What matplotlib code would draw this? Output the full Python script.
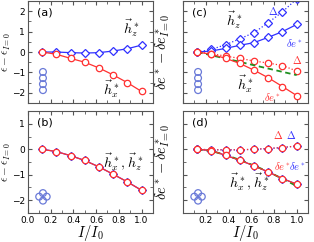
import numpy as np
import matplotlib
matplotlib.use('Agg')
import matplotlib.pyplot as plt
from matplotlib.ticker import MultipleLocator, NullFormatter

plt.rcParams['mathtext.fontset'] = 'cm'
plt.rcParams['font.family'] = 'DejaVu Sans'

# data
x = [0.125, 0.25, 0.375, 0.5, 0.625, 0.75, 0.875, 1.0]

a_hz = [0, 0, -0.03, -0.05, -0.03, 0.05, 0.16, 0.34]
a_hx = [0, -0.11, -0.31, -0.50, -0.78, -1.12, -1.50, -1.93]

b_hz = [0, -0.09, -0.25, -0.44, -0.69, -0.98, -1.28, -1.61]
b_hx = [0, -0.09, -0.25, -0.44, -0.69, -0.98, -1.28, -1.61]

c_hz_de = [0, 0.05, 0.18, 0.33, 0.46, 0.72, 1.00, 1.35]
c_hz_delta = [0, 0.13, 0.36, 0.65, 0.95, 1.44, 1.97, 2.6]
c_hx_de = [0, -0.11, -0.31, -0.56, -0.89, -1.26, -1.69, -2.13]
c_hx_delta = [0, -0.08, -0.20, -0.31, -0.44, -0.54, -0.66, -0.93]
c_fit = [0, -0.16, -0.32, -0.48, -0.65, -0.81, -0.97, -1.13]

d_delta = [0, -0.02, -0.02, -0.02, 0, 0.03, 0.07, 0.13]
d_de = [0, -0.05, -0.24, -0.43, -0.65, -0.89, -1.15, -1.37]
d_fit = [0, -0.07, -0.22, -0.42, -0.64, -0.88, -1.16, -1.44]

red = '#ff3030'
blue = '#3030ff'
green = '#1f8f1f'
icon = '#6a7ad8'

fig = plt.figure(figsize=(3.14, 2.42), dpi=100)
axa = fig.add_axes([0.089, 0.574, 0.398, 0.422])
axb = fig.add_axes([0.089, 0.120, 0.398, 0.421])
axc = fig.add_axes([0.583, 0.574, 0.398, 0.422])
axd = fig.add_axes([0.583, 0.120, 0.398, 0.421])

diam = dict(marker='D', ms=4.2, mfc='white', mec=blue, mew=0.9, color=blue, lw=0.9)
circ = dict(marker='o', ms=4.6, mfc='white', mec=red, mew=0.9, color=red, lw=0.9)

# (a)
axa.plot(x, a_hz, **diam)
axa.plot(x, a_hx, **circ)
axa.set_ylim(-2.5, 2.5)

# (b)
axb.plot(x, b_hz, **diam)
axb.plot(x, b_hx, **circ)
axb.set_ylim(-2.5, 1.5)

# (c)
axc.plot(x, c_hz_delta, ls=':', **diam)
axc.plot(x, c_hz_de, **diam)
axc.plot(x, c_hx_delta, ls=':', **circ)
axc.plot(x, c_fit, '--', color=green, lw=1.3, dashes=(3, 2))
axc.plot(x, c_hx_de, **circ)
axc.set_ylim(-2.5, 2.5)

# (d)
axd.plot(x, d_delta, ls=':', **diam)
axd.plot(x, d_de, **diam)
axd.plot(x, d_delta, ls=':', **circ)
axd.plot(x, d_fit, '--', color=green, lw=1.3, dashes=(3, 2))
axd.plot(x, d_de, **circ)
axd.set_ylim(-2.5, 1.5)

for ax in (axa, axb, axc, axd):
    ax.set_xlim(0, 1.1)
    ax.xaxis.set_major_locator(MultipleLocator(0.2))
    ax.xaxis.set_minor_locator(MultipleLocator(0.1))
    ax.yaxis.set_major_locator(MultipleLocator(1))
    ax.yaxis.set_minor_locator(MultipleLocator(0.5))
    ax.tick_params(which='both', direction='in', top=True, right=True,
                   labelsize=6.5, pad=2, color='#555555')
    ax.tick_params(which='major', length=3)
    ax.tick_params(which='minor', length=2.5)
    for s in ax.spines.values():
        s.set_color('#555555')
        s.set_linewidth(0.8)

for ax in (axa, axc):
    ax.xaxis.set_major_formatter(NullFormatter())
for ax in (axc, axd):
    ax.yaxis.set_major_formatter(NullFormatter())

axd.set_xticks([0.2, 0.4, 0.6, 0.8, 1.0])
axd.set_xticklabels(['0.2', '0.4', '0.6', '0.8', '1.0'])
axb.set_xticks([0.0, 0.2, 0.4, 0.6, 0.8, 1.0])
axb.set_xticklabels(['0.0', '0.2', '0.4', '0.6', '0.8', '1.0'])

for ax in (axb, axd):
    ax.set_xlabel(r'$I/I_0$', fontsize=10.5, labelpad=-1)

for ax in (axa, axb):
    ax.set_ylabel(r'$\bar{\epsilon}-\bar{\epsilon}_{I=0}$', fontsize=8)
    ax.yaxis.set_label_coords(-0.12, 0.5)
for ax in (axc, axd):
    ax.set_ylabel(r'$\delta e^*-\delta e^*_{I=0}$', fontsize=10.5)
    ax.yaxis.set_label_coords(-0.09, 0.5)

for ax, lab in zip((axa, axb, axc, axd), ['(a)', '(b)', '(c)', '(d)']):
    ax.text(0.07, 0.86, lab, transform=ax.transAxes, fontsize=8)

# molecule icons
for ax in (axa, axc):
    ax.scatter([0.12] * 4, [0.305, 0.245, 0.186, 0.127], s=24, facecolor='none',
               edgecolor=icon, lw=0.9, transform=ax.transAxes, clip_on=False)
for ax in (axb, axd):
    ax.scatter([0.12, 0.09, 0.15, 0.12], [0.195, 0.160, 0.160, 0.121], s=24,
               facecolor='none', edgecolor=icon, lw=0.9, transform=ax.transAxes)

# labels inside panels
axa.text(0.76, 0.68, r'$\vec{h}_z^*$', transform=axa.transAxes, fontsize=10)
axa.text(0.6, 0.08, r'$\vec{h}_x^*$', transform=axa.transAxes, fontsize=10)
axb.text(0.6, 0.45, r'$\vec{h}_x^*,\vec{h}_z^*$', transform=axb.transAxes, fontsize=10)

axc.text(0.34, 0.76, r'$\vec{h}_z^*$', transform=axc.transAxes, fontsize=10)
axc.text(0.43, 0.13, r'$\vec{h}_x^*$', transform=axc.transAxes, fontsize=10)
axc.text(0.68, 0.86, r'$\Delta$', color=blue, transform=axc.transAxes, fontsize=7.5)
axc.text(0.82, 0.55, r'$\delta e^*$', color=blue, transform=axc.transAxes, fontsize=7.5)
axc.text(0.87, 0.38, r'$\Delta$', color=red, transform=axc.transAxes, fontsize=7.5)
axc.text(0.65, 0.02, r'$\delta e^*$', color=red, transform=axc.transAxes, fontsize=7.5)

axd.text(0.72, 0.73, r'$\Delta$', color=red, transform=axd.transAxes, fontsize=7.5)
axd.text(0.82, 0.73, r'$\Delta$', color=blue, transform=axd.transAxes, fontsize=7.5)
axd.text(0.73, 0.42, r'$\delta e^*$', color=red, transform=axd.transAxes, fontsize=7.5)
axd.text(0.85, 0.42, r'$\delta e^*$', color=blue, transform=axd.transAxes, fontsize=7.5)
axd.text(0.37, 0.25, r'$\vec{h}_x^*,\vec{h}_z^*$', transform=axd.transAxes, fontsize=10)

fig.savefig('out.png', dpi=100)
